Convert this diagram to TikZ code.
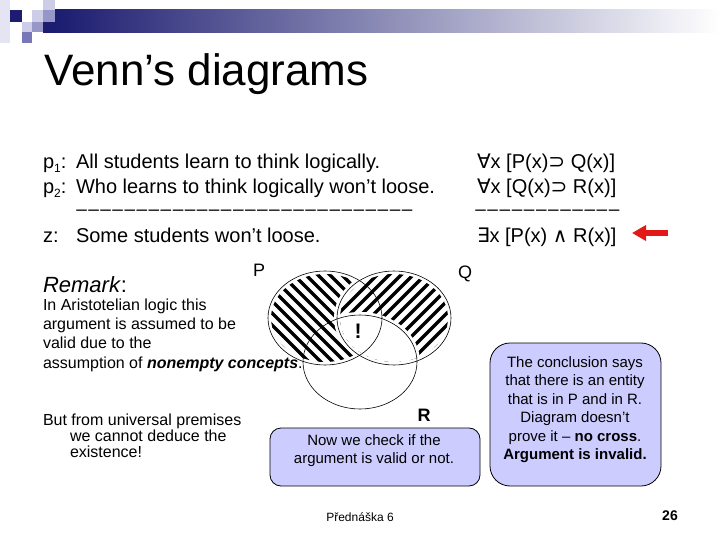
\documentclass[tikz,border=0pt]{standalone}
\usepackage{fontspec}
\setmainfont{Liberation Sans}
\newfontfamily\symf{DejaVu Sans}
\usetikzlibrary{arrows.meta}
\definecolor{navy}{RGB}{28,28,112}
\definecolor{sqlight}{RGB}{205,205,232}
\definecolor{sqmid}{RGB}{150,150,200}
\definecolor{sqdark}{RGB}{120,120,185}
\definecolor{vlight}{RGB}{228,228,242}
\definecolor{bubblefill}{RGB}{204,204,255}
\definecolor{arrowred}{RGB}{225,25,25}
\newcommand\fsz[1]{\fontsize{#1}{#1}\selectfont}
\newcommand\subs[1]{\raisebox{-0.35ex}{\fsz{12}#1}}
\newcommand\hyrule[1]{\makebox[#1]{\fsz{19}\xleaders\hbox{–\kern1.2pt}\hfill}}
\begin{document}
\begin{tikzpicture}[x=1pt,y=-1pt,
  txt/.style={inner sep=0pt, outer sep=0pt, anchor=base west, font=\fsz{20}},
  small/.style={inner sep=0pt, outer sep=0pt, anchor=base west, font=\fsz{16}},
  lbl/.style={inner sep=0pt, outer sep=0pt, anchor=base, font=\fsz{18}},
  bubble/.style={draw=black, line width=0.8pt, fill=bubblefill},
  bubbletxt/.style={inner sep=0pt, align=center, font=\fontsize{15}{18.5}\selectfont},
  hatch/.style={line width=3.3pt},
  venn/.style={draw=black, line width=0.6pt},
  redarrow/.style={draw=arrowred, line width=5pt, -{Triangle[length=14pt,width=15pt]}}]
\useasboundingbox (0,0) rectangle (720,540);
\fill[white] (0,0) rectangle (720,540);
% header decoration
\fill[vlight] (0,0) rectangle (10,43);
\shade[left color=navy, right color=white] (55,10) rectangle (720,33);
\fill[navy] (10,10) rectangle (22,22);
\fill[sqlight] (32,10) rectangle (43,22);
\fill[sqlight] (43,0) rectangle (55,10);
\fill[sqmid] (43,10) rectangle (55,22);
\fill[navy] (43,22) rectangle (55,33);
\fill[sqlight] (22,22) rectangle (32,32);
\fill[sqmid] (32,22) rectangle (43,32);
\fill[sqdark] (22,32) rectangle (32,43);
% title
\node[inner sep=0pt, anchor=base west, font=\fsz{44}] (title) at (44,86) {Venn’s diagrams};
% premises
\node[txt] (p1l) at (43,169) {p\subs{1}:};
\node[txt] (p1) at (76,169) {All students learn to think logically.};
\node[txt] (p2l) at (43,194) {p\subs{2}:};
\node[txt] (p2) at (76,194) {Who learns to think logically won’t loose.};
\node[txt] (rule1) at (76,215) {\hyrule{338pt}};
\node[txt] (zl) at (43,242) {z:};
\node[txt] (z) at (76,242) {Some students won’t loose.};
% formulas
\node[txt] (f1) at (477,169) {{\symf ∀}x [P(x){\symf ⊃} Q(x)]};
\node[txt] (f2) at (477,194) {{\symf ∀}x [Q(x){\symf ⊃} R(x)]};
\node[txt] (rule2) at (475,215) {\hyrule{146pt}};
\node[txt] (concl) at (477,242) {{\symf ∃}x [P(x) {\symf ∧} R(x)]};
\coordinate (arrtail) at (668,233);
\coordinate (arrtip) at (632,233);
\draw[redarrow] (arrtail) -- (arrtip);
% remark
\node[txt, font=\fsz{22}] (remark) at (43,292) {\textit{Remark}:};
\node[small] (r1) at (43,310) {In Aristotelian logic this};
\node[small] (r2) at (43,329) {argument is assumed to be};
\node[small] (r3) at (43,348) {valid due to the};
\node[small] (r4) at (43,368) {assumption of \textbf{\textit{nonempty concepts}}.};
\node[small] (b1) at (43,425) {But from universal premises};
\node[small] (b2) at (70,441) {we cannot deduce the};
\node[small] (b3) at (70,457) {existence!};
% Venn hatching
\begin{scope}
  \clip (325,318) ellipse [x radius=54pt, y radius=44pt];
  \foreach \i in {-144,-132,...,144} \draw[hatch] (325+\i-90,318-90) -- ++(180,180);
\end{scope}
\fill[white] (394,318) ellipse [x radius=60pt, y radius=50pt];
\begin{scope}
  \clip (394,318) ellipse [x radius=54pt, y radius=44pt];
  \foreach \i in {-144,-132,...,144} \draw[hatch] (394+\i-90,318+90) -- ++(180,-180);
  \fill[white] (360,362) ellipse [x radius=60pt, y radius=50pt];
\end{scope}
\draw[venn] (325,318) ellipse [x radius=57pt, y radius=47pt];
\draw[venn] (394,318) ellipse [x radius=57pt, y radius=47pt];
\draw[venn] (360,362) ellipse [x radius=57pt, y radius=47pt];
\node[lbl] (P) at (259,276.5) {P};
\node[lbl] (Q) at (465,278.5) {Q};
\node[lbl, font=\fsz{18}\bfseries] (R) at (424,421.5) {R};
\node[inner sep=0pt, anchor=base, font=\fsz{21}\bfseries] (excl) at (358,338) {!};
% boxes
\node[bubble, rounded corners=11pt, minimum width=210pt, minimum height=58pt] (box1) at (375,457) {};
\node[bubbletxt] (box1txt) at (374,450.5) {Now we check if the\\argument is valid or not.};
\node[bubble, rounded corners=20pt, minimum width=171pt, minimum height=143pt] (box2) at (575.5,414.5) {};
\node[bubbletxt] (box2txt) at (575,409.5) {The conclusion says\\that there is an entity\\that is in P and in R.\\Diagram doesn’t\\prove it – \textbf{no cross}.\\\textbf{Argument is invalid.}};
% footer
\node[inner sep=0pt, font=\fsz{12}] (foot) at (360,517) {Přednáška 6};
\node[inner sep=0pt, font=\fsz{14}\bfseries] (pagenum) at (670,516) {26};
\end{tikzpicture}
\end{document}
